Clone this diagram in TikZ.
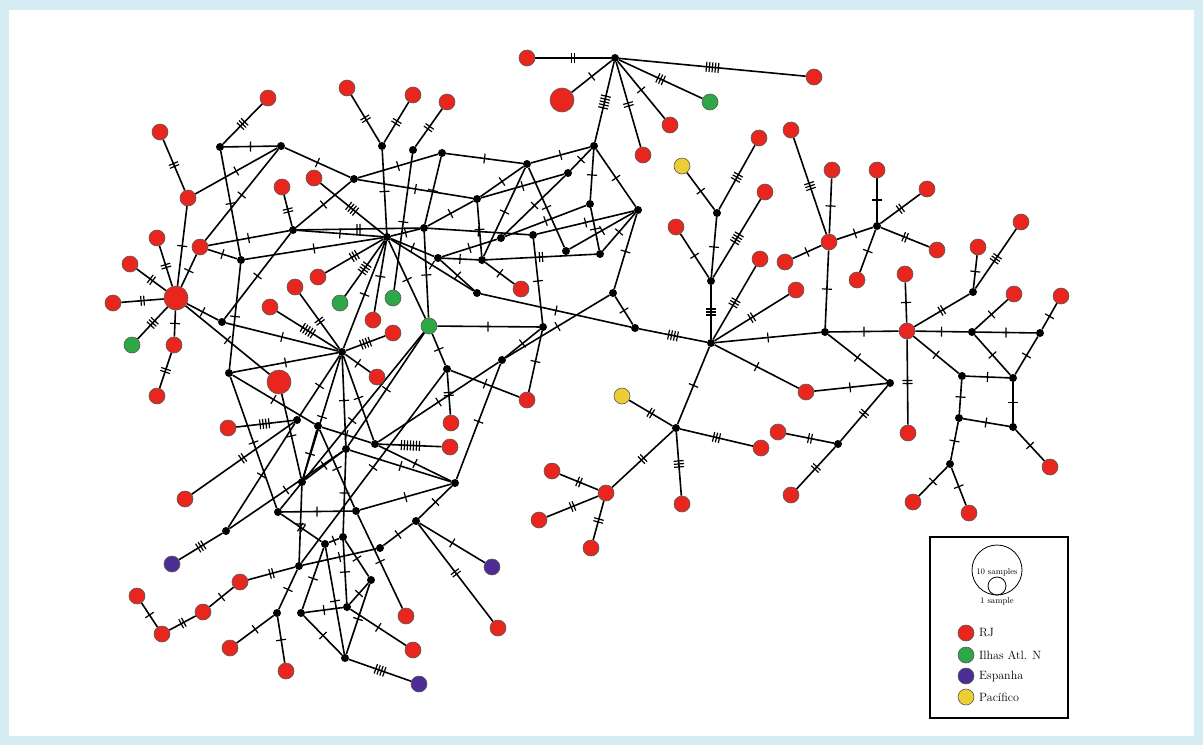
\documentclass[tikz,border=0pt]{standalone}
\usetikzlibrary{decorations.markings,backgrounds}
\definecolor{hapred}{RGB}{232,38,30}
\definecolor{hapgreen}{RGB}{46,168,70}
\definecolor{happurple}{RGB}{78,44,150}
\definecolor{hapyellow}{RGB}{236,206,52}
\definecolor{frameblue}{RGB}{214,236,243}
\tikzset{
  hap/.style={circle,draw=black!65,line width=0.6pt,inner sep=0pt,minimum size=16pt},
  mv/.style={circle,fill=black,inner sep=0pt,minimum size=8pt},
  link/.style={line width=1.6pt},
  mut/.style={postaction={decorate,decoration={markings,mark=at position 0.5 with
    {\foreach \k in {1,...,#1}\draw[line width=1.2pt] ({(\k-(#1+1)/2)*3pt},-5pt) -- ++(0,10pt);}}}}
}
\begin{document}
\begin{tikzpicture}[x=1pt,y=-1pt]
\useasboundingbox (0,0) rectangle (1203,745);
% haplotypes
\foreach \n/\x/\y in {ra/527/58, rb/814/77, rc/670/125, rd/643/155, re/268/98, rf/347/88, rg/413/95,
  rh/447/102, ri/160/132, rj/188/198, rk/282/187, rl/314/178, rm/200/247, rn/157/238, ro/130/264,
  rp/113/303, rq/174/345, rr/157/396, rs/318/277, rt/295/287, ru/270/307, rv/373/320, rw/393/333,
  rx/377/377, ry/521/289, rz/451/423, sa/450/447, sb/228/428, sc/185/499, sd/240/582, se/203/612,
  sf/137/596, sg/162/634, sh/230/648, si/286/671, sj/406/616, sk/413/650, sl/498/628, sm/527/400,
  sn/759/138, so/765/192, sp/676/227, sq/760/259, sr/796/290, ss/785/262, st/791/130, su/832/170,
  sv/877/170, sw/927/189, sx/937/250, sy/857/280, sz/806/392, ta/778/432, tb/791/495, tc/761/448,
  td/682/504, te/552/471, tf/539/520, tg/591/548, th/905/274, ti/908/433, tj/978/247, tk/1021/222,
  tl/1014/294, tm/1061/296, tn/1050/467, to/913/502, tp/969/513, RH1/829/242, RH2/907/331, RH3/606/493}
  \node[hap,fill=hapred] (\n) at (\x,\y) {};
\foreach \n/\x/\y in {LA/176/298, LB/562/100, LC/279/382}
  \node[hap,fill=hapred,minimum size=24pt] (\n) at (\x,\y) {};
\foreach \n/\x/\y in {ga/132/345, gb/340/303, gc/393/298, gd/429/326, ge/710/102}
  \node[hap,fill=hapgreen] (\n) at (\x,\y) {};
\foreach \n/\x/\y in {pa/172/564, pb/492/567, pc/419/684}
  \node[hap,fill=happurple] (\n) at (\x,\y) {};
\foreach \n/\x/\y in {ya/682/166, yb/622/396}
  \node[hap,fill=hapyellow] (\n) at (\x,\y) {};
% median vectors
\foreach \n/\x/\y in {m1/220/147, m2/281/146, m3/354/179, m4/382/146, m5/413/150, m6/442/153,
  m7/527/164, m8/594/146, m9/615/58, m10/477/199, m11/424/228, m12/438/258, m13/293/230,
  m14/241/260, m15/222/322, m16/229/373, H1/387/237, H2/342/352, m19/477/293, m20/447/369,
  m21/568/173, m22/590/204, m23/638/210, m24/501/238, m25/533/235, m26/482/260, m27/566/251,
  m28/600/254, m29/613/293, m30/543/327, m31/635/328, m32/502/360, m33/297/420, m34/318/426,
  m35/346/449, m36/375/444, m37/455/483, m38/302/482, m39/278/512, m40/356/511, m41/416/521,
  m42/226/531, m43/343/537, m44/325/544, m45/380/548, m46/299/566, m47/371/580, m48/277/613,
  m49/301/613, m50/347/607, m51/345/658, R0/711/343, n1/717/213, n2/711/281, n3/676/428,
  n4/838/444, n5/890/383, n6/825/332, n7/877/226, n8/973/292, n9/972/332, n10/1040/333,
  n11/1013/378, n12/962/376, n13/959/418, n14/1013/427, n15/950/464}
  \node[mv] (\n) at (\x,\y) {};
% legend
\draw[line width=1.6pt] (930,537) rectangle (1068,718);
\node[circle,draw,line width=0.8pt,minimum size=50pt,inner sep=0pt] (leg10) at (997,570) {};
\node[circle,draw,line width=0.8pt,minimum size=18pt,inner sep=0pt,anchor=south] (leg1) at (leg10.south) {};
\node[font=\fontsize{8.5}{9}\selectfont,inner sep=0pt] at ([yshift=-2pt]leg10.center) {10 samples};
\node[font=\fontsize{8.5}{9}\selectfont,inner sep=0pt,below=2pt] at (leg1.south) {1 sample};
\foreach \c/\t/\y in {hapred/RJ/633, hapgreen/Ilhas Atl. N/655, happurple/Espanha/676, hapyellow/Pacífico/697}{
  \node[hap,fill=\c] (leg\c) at (966,\y) {};
  \node[anchor=west,font=\fontsize{12}{13}\selectfont,inner sep=0pt] at (979,\y) {\t};
}
\begin{scope}[on background layer]
\fill[frameblue] (0,0) rectangle (1203,745);
\fill[white] (9,10) rectangle (1194,736);
% connectors with mutation ticks
\foreach \a/\b/\m in {m9/ra/2, m9/rb/5, m9/LB/1, m9/ge/3, m9/rc/1, m9/rd/2, m9/m8/5,
  m8/m7/1, m8/m21/1, m8/m22/1, m8/m23/1,
  LA/rp/2, LA/ro/2, LA/rn/2, LA/ga/3, LA/rq/1, rq/rr/2, LA/rj/1, rj/ri/2, rj/m2/1, LA/rm/1,
  rm/m2/1, rm/m13/1, rm/m14/1, LA/m15/1, LA/LC/1,
  m1/m2/1, m1/re/3, m1/m14/1, m2/m3/1, m14/m16/1, m14/H1/1, m13/rk/2, m13/m3/1, m13/H1/1,
  m13/m11/2, m13/m15/1, m15/H2/1, m16/H2/1,
  m3/m6/1, m3/m10/1, rl/H1/4, m4/H1/1, m4/rf/2, m4/rg/2, m5/rh/2, m5/gc/1, m6/m7/1, m6/m11/1,
  H1/rs/3, H1/gb/4, H1/rv/1, H1/gd/1, H1/H2/1, H1/m11/1, H1/m12/1, H1/m19/1,
  H2/ru/5, H2/rt/2, H2/rw/4, H2/rx/1, H2/m33/1, H2/m38/1, H2/m35/1, H2/m36/1,
  m7/m10/1, m7/m26/1, m7/m27/1, m10/m11/1, m10/m21/1, m10/m26/1, m21/m24/1, m22/m24/1,
  m22/m28/1, m23/m25/1, m23/m27/1, m23/m28/1, m23/m29/1, m11/m25/1, m12/m24/1, m12/m26/1,
  m26/m28/2, m26/ry/1, m12/m19/1, m19/m31/1, m29/m31/1, m30/m25/1, m30/m32/1, m30/sm/1,
  m32/m29/1, m11/gd/1, gd/m30/1, gd/m20/1, m20/rz/2, m20/sm/1, m32/m37/1, m32/m36/1,
  gd/m39/1, m20/m46/1, gd/m35/1,
  m33/sb/4, m33/sc/2, m42/pa/3, m42/m33/1, m42/m35/1, m16/m34/1, m34/m36/1, m16/m39/1,
  LC/m38/1, m34/m40/1, m34/m38/1, m35/m43/1, m43/m50/1, m35/m38/1, m35/m37/1, m36/m37/1,
  m36/sa/7, m38/m46/1, m39/m40/1, m40/m37/1, m40/sj/1, m39/m44/2, m44/m43/1, m41/m37/1,
  m41/m45/1, m41/pb/1, m41/sl/2, m45/m46/1, m46/sd/2, m46/m48/1, m48/sh/1, m48/si/1,
  m49/m50/1, m49/m51/1, m51/pc/4, m51/m47/1, m50/m47/1, m50/sk/1, m44/m49/1, m44/m51/1,
  m43/m47/1, sd/se/1, se/sg/2, sg/sf/1,
  m31/R0/4, R0/n2/3, n2/n1/1, n1/ya/1, n1/sn/3, n2/sp/1, n2/so/4, R0/sq/3, R0/sr/2, R0/n6/1,
  R0/sz/1, R0/n3/1, n3/yb/2, n3/tc/3, n3/td/3, n3/RH3/2, RH3/te/2, RH3/tf/2, RH3/tg/2,
  sz/n5/1, n4/ta/2, n4/tb/2, n4/n5/2, n6/RH1/1, n6/RH2/1, n6/n5/1, RH1/st/3, RH1/su/1,
  RH1/ss/1, RH1/n7/1, n7/sv/1, n7/sw/2, n7/sx/2, n7/sy/1, RH2/th/1, RH2/ti/2, RH2/n8/2,
  n8/tj/1, n8/tk/3, RH2/n9/1, n9/n10/1, n9/tl/1, n10/tm/1, n9/n11/1, n10/n11/1, RH2/n12/1,
  n12/n11/1, n12/n13/1, n13/n14/1, n11/n14/1, n14/tn/1, n13/n15/1, n15/to/1, n15/tp/1}
  \draw[link,mut=\m] (\a) -- (\b);
\end{scope}
\end{tikzpicture}
\end{document}
